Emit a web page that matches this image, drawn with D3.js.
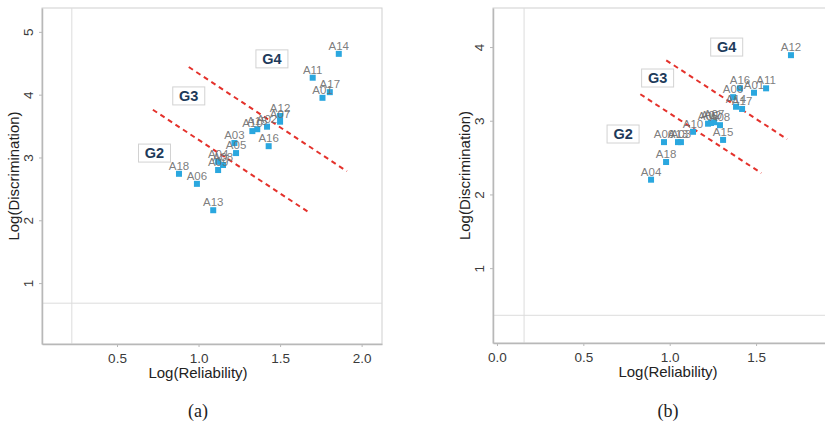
<!DOCTYPE html>
<html>
<head>
<meta charset="utf-8">
<script src="https://cdn.jsdelivr.net/npm/d3@7"></script>
<style>
  html, body { margin: 0; padding: 0; background: #fff; }
  svg { display: block; font-family: "Liberation Sans", Arial, sans-serif; }
</style>
</head>
<body>
<svg id="chart" width="825" height="422"></svg>
<script>
// item labels, same order for both panels
const items = ['A01','A02','A03','A04','A05','A06','A07','A08','A09',
               'A10','A11','A12','A13','A14','A15','A16','A17','A18'];

// panel (a) values
const relA  = [1.76, 1.42, 1.22, 1.12, 1.23, 0.99, 1.50, 1.15, 1.12,
               1.33, 1.70, 1.50, 1.09, 1.86, 1.36, 1.43, 1.805, 0.88];
const discA = [3.95, 3.49, 3.23, 2.93, 3.07, 2.58, 3.57, 2.88, 2.80,
               3.42, 4.27, 3.66, 2.16, 4.65, 3.45, 3.18, 4.04, 2.74];

// panel (b) values
const relB  = [1.488, 1.239, 1.065, 0.892, 1.222, 0.967, 1.257, 1.291, 1.367,
               1.135, 1.558, 1.702, 1.048, 1.384, 1.309, 1.407, 1.419, 0.979];
const discB = [3.38, 2.97, 2.71, 2.20, 2.96, 2.71, 2.98, 2.94, 3.32,
               2.85, 3.44, 3.89, 2.71, 3.19, 2.74, 3.44, 3.16, 2.44];

// group boundaries (dashed) : [x1, y1, x2, y2]
const cutsA = [[0.94, 4.44, 1.91, 2.78], [0.72, 3.76, 1.68, 2.12]];
const cutsB = [[0.98, 3.82, 1.68, 2.75], [0.83, 3.36, 1.53, 2.29]];

// group names and where they sit
const groups = ['G2', 'G3', 'G4'];
const groupPosA = [[0.73, 3.07], [0.94, 3.98], [1.45, 4.57]];
const groupPosB = [[0.73, 2.82], [0.93, 3.58], [1.33, 4.00]];

// reference lines [vertical x, horizontal y]
const refA = [0.223, 0.68];
const refB = [0.157, 0.36];

const ticksXA = [0.5, 1.0, 1.5, 2.0];
const ticksYA = [1, 2, 3, 4, 5];
const ticksXB = [0.0, 0.5, 1.0, 1.5];
const ticksYB = [1, 2, 3, 4];

const svg = d3.select('#chart');

function panel(opts) {
  const { left, right, top, bottom, xDom, yDom, rel, disc, cuts, gpos, ref,
          tx, ty, caption, xTitleX } = opts;
  const x = d3.scaleLinear().domain(xDom).range([left, right]);
  const y = d3.scaleLinear().domain(yDom).range([bottom, top]);
  const g = svg.append('g');

  // border
  g.append('rect')
    .attr('x', left).attr('y', top)
    .attr('width', right - left).attr('height', bottom - top)
    .attr('fill', 'none').attr('stroke', '#cfcfcf').attr('stroke-width', 1);

  // reference lines
  g.append('line')
    .attr('x1', x(ref[0])).attr('x2', x(ref[0]))
    .attr('y1', top).attr('y2', bottom)
    .attr('stroke', '#dcdcdc').attr('stroke-width', 1);
  g.append('line')
    .attr('x1', left).attr('x2', right)
    .attr('y1', y(ref[1])).attr('y2', y(ref[1]))
    .attr('stroke', '#dcdcdc').attr('stroke-width', 1);

  // axes
  const ax = g.append('g')
    .attr('transform', `translate(0,${bottom})`)
    .call(d3.axisBottom(x).tickValues(tx).tickFormat(d3.format('.1f')).tickSize(3).tickSizeOuter(0));
  const ay = g.append('g')
    .attr('transform', `translate(${left},0)`)
    .call(d3.axisLeft(y).tickValues(ty).tickFormat(d3.format('d')).tickSize(3).tickSizeOuter(0));
  [ax, ay].forEach(a => {
    a.select('.domain').attr('stroke', '#b8b8b8').attr('stroke-width', 1.5);
    a.selectAll('.tick line').attr('stroke', '#b8b8b8');
    a.selectAll('.tick text').attr('fill', '#3a3a3a').attr('font-size', 13.5)
      .attr('font-family', '"Liberation Sans", Arial, sans-serif');
  });
  ax.selectAll('.tick text').attr('dy', '0.95em');
  // y tick labels are rotated like the ggplot original
  ay.selectAll('.tick text')
    .attr('x', null).attr('dy', null)
    .attr('text-anchor', 'middle')
    .attr('transform', 'translate(-9,0) rotate(-90)');

  // axis titles
  g.append('text')
    .attr('x', xTitleX).attr('y', bottom + 34)
    .attr('text-anchor', 'middle').attr('font-size', 15).attr('fill', '#222')
    .text('Log(Reliability)');
  g.append('text')
    .attr('transform', `translate(${left - 23},${(top + bottom) / 2}) rotate(-90)`)
    .attr('text-anchor', 'middle').attr('font-size', 15).attr('fill', '#222')
    .text('Log(Discrimination)');

  // caption
  g.append('text')
    .attr('x', xTitleX).attr('y', 417)
    .attr('text-anchor', 'middle').attr('font-size', 18).attr('fill', '#222')
    .attr('font-family', '"Liberation Serif", "Times New Roman", serif')
    .text(caption);

  // dashed group cuts
  g.selectAll('line.cut').data(cuts).join('line')
    .attr('class', 'cut')
    .attr('x1', d => x(d[0])).attr('y1', d => y(d[1]))
    .attr('x2', d => x(d[2])).attr('y2', d => y(d[3]))
    .attr('stroke', '#e4312b').attr('stroke-width', 2)
    .attr('stroke-dasharray', '5,4');

  // points + labels
  const pts = items.map((id, i) => ({ id, x: rel[i], y: disc[i] }));
  g.selectAll('rect.pt').data(pts).join('rect')
    .attr('class', 'pt')
    .attr('x', d => x(d.x) - 3).attr('y', d => y(d.y) - 3)
    .attr('width', 6).attr('height', 6)
    .attr('fill', '#2aa7df');
  g.selectAll('text.lab').data(pts).join('text')
    .attr('class', 'lab')
    .attr('x', d => x(d.x)).attr('y', d => y(d.y) - 4)
    .attr('text-anchor', 'middle').attr('font-size', 11.5)
    .attr('fill', '#6e6e6e').attr('fill-opacity', 0.9)
    .text(d => d.id);

  // group labels
  const gl = g.selectAll('g.grp').data(groups.map((n, i) => ({ n, p: gpos[i] }))).join('g')
    .attr('class', 'grp')
    .attr('transform', d => `translate(${x(d.p[0])},${y(d.p[1])})`);
  gl.append('rect')
    .attr('x', -16).attr('y', -9).attr('width', 32).attr('height', 18)
    .attr('fill', '#fff').attr('stroke', '#d2d2d2').attr('stroke-width', 1);
  gl.append('text')
    .attr('text-anchor', 'middle').attr('dy', '0.36em')
    .attr('font-size', 14.5).attr('font-weight', 'bold').attr('fill', '#1d3a5a')
    .text(d => d.n);
}

panel({
  left: 42, right: 382, top: 8, bottom: 344,
  xDom: [0.04, 2.125], yDom: [0.03, 5.38],
  rel: relA, disc: discA, cuts: cutsA, gpos: groupPosA, ref: refA,
  tx: ticksXA, ty: ticksYA, caption: '(a)', xTitleX: 198
});

panel({
  left: 493, right: 830, top: 8, bottom: 343,
  xDom: [-0.023, 1.928], yDom: [-0.016, 4.53],
  rel: relB, disc: discB, cuts: cutsB, gpos: groupPosB, ref: refB,
  tx: ticksXB, ty: ticksYB, caption: '(b)', xTitleX: 668
});
</script>
</body>
</html>
